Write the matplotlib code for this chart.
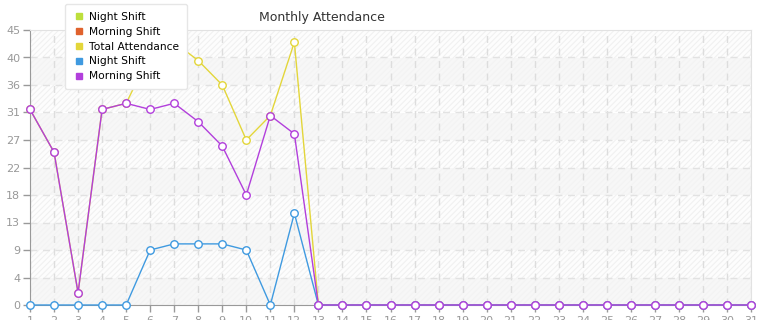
import matplotlib
matplotlib.use("Agg")
import matplotlib.pyplot as plt
from matplotlib.lines import Line2D
import numpy as np

days = list(range(1, 32))
# series values (days 1..31); first two series show no points
night_a = []
morning_a = []
total = [32, 25, 2, 32, 33, 41, 43, 40, 36, 27, 31, 43] + [0] * 19
night = [0, 0, 0, 0, 0, 9, 10, 10, 10, 9, 0, 15] + [0] * 19
morning = [32, 25, 2, 32, 33, 32, 33, 30, 26, 18, 31, 28] + [0] * 19

series = [
    ("Night Shift", night_a, "#bddf3c"),
    ("Morning Shift", morning_a, "#e0622d"),
    ("Total Attendance", total, "#e3d63a"),
    ("Night Shift", night, "#3f9ae0"),
    ("Morning Shift", morning, "#b23fdc"),
]

y_ticks = np.linspace(0, 45, 11)

plt.rcParams["hatch.linewidth"] = 0.8
fig = plt.figure(figsize=(7.65, 3.2), dpi=100)
ax = fig.add_axes([30 / 765, 15 / 320, 721 / 765, 275 / 320])

# background bands, alternating hatched / light gray
for i in range(len(y_ticks) - 1):
    lo, hi = y_ticks[i], y_ticks[i + 1]
    if (9 - i) % 2 == 0:
        ax.axhspan(lo, hi, facecolor="#fdfdfd", edgecolor="#f1f1f1", hatch="//////", lw=0, zorder=0)
    else:
        ax.axhspan(lo, hi, facecolor="#f7f7f7", edgecolor="#f3f3f3", hatch="//////", lw=0, zorder=0)

for d in days:
    ax.axvline(d, color="#dddddd", lw=1, ls=(0, (5, 4)), zorder=1)
for t in y_ticks[1:-1]:
    ax.axhline(t, color="#e2e2e2", lw=1, ls=(0, (5, 4)), zorder=1)

for name, vals, col in series:
    if not vals:
        continue
    ax.plot(days, vals, color=col, lw=1, marker="o", ms=5.4, mfc="white",
            mec=col, mew=1.0, zorder=3, clip_on=False)

ax.set_xlim(1, 31)
ax.set_ylim(0, 45)
ax.set_xticks(days)
ax.set_yticks(y_ticks)
ax.set_yticklabels([str(int(t)) for t in y_ticks])
ax.tick_params(colors="#999999", labelsize=8, length=5, width=1, pad=2)
ax.tick_params(axis="x", pad=3)
for s in ["left", "bottom"]:
    ax.spines[s].set_color("#999999")
for s in ["top", "right"]:
    ax.spines[s].set_color("#e2e2e2")

fig.text(322 / 765, 1 - 17 / 320, "Monthly Attendance", ha="center", va="center",
         fontsize=9, color="#333333")

handles = [Line2D([], [], marker="s", ls="none", color=c, ms=4.5) for _, _, c in series]
labels = [n for n, _, _ in series]
leg = fig.legend(handles, labels, loc="upper left", bbox_to_anchor=(65 / 765, 1 - 4 / 320),
                 fontsize=7.7, frameon=True, fancybox=True, shadow=False,
                 labelspacing=0.45, handletextpad=0.3, handlelength=1.2,
                 borderpad=0.75, borderaxespad=0)
leg.get_frame().set_edgecolor("#e6e6e6")
leg.get_frame().set_facecolor("white")
leg.get_frame().set_alpha(1)
leg.set_zorder(10)

fig.savefig("out.png", dpi=100)
